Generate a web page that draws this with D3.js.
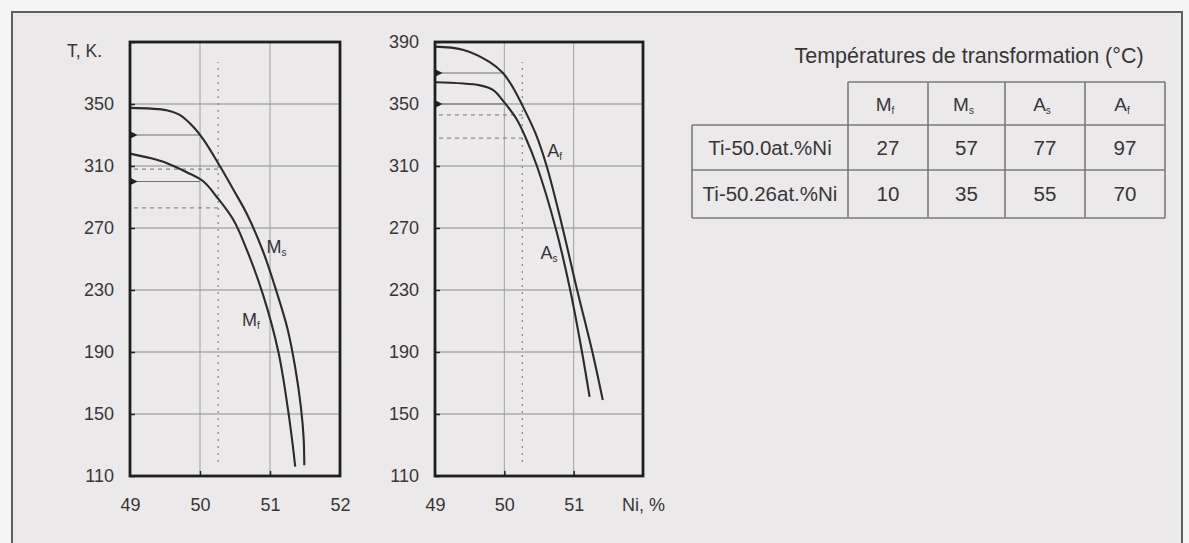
<!DOCTYPE html>
<html>
<head>
<meta charset="utf-8">
<script src="https://cdn.jsdelivr.net/npm/d3@7"></script>
<style>
  html, body { margin: 0; padding: 0; background: #f6f5f5; }
  svg { display: block; }
  text { font-family: "Liberation Sans", Arial, sans-serif; fill: #363636; }
</style>
</head>
<body>
<svg id="chart" width="1189" height="543"></svg>
<script>
// Composition axis (at.% Ni) and temperature axis (K)
const niDomain = [49, 52];
const tDomain = [110, 390];
const tTicks = [110, 150, 190, 230, 270, 310, 350, 390];
const niTicks = [49, 50, 51, 52];
const niTickLabelsRight = ["49", "50", "51", "Ni, %"];
const alloyNi = [50.0, 50.26];

// Martensite transformation curves (Ni at.%, T in K)
const msCurve = [[49.0, 347.5], [49.3, 347], [49.52, 346], [49.71, 343], [49.9, 335.5], [50.05, 327],
  [50.29, 309.5], [50.48, 294.5], [50.67, 279], [50.9, 255], [51.1, 228], [51.25, 205],
  [51.36, 180], [51.44, 155], [51.48, 135], [51.49, 117]];
const mfCurve = [[49.0, 318], [49.3, 315], [49.52, 312], [49.81, 306], [50.05, 300], [50.24, 290],
  [50.48, 275], [50.65, 258], [50.9, 227], [51.12, 190], [51.26, 152], [51.33, 128], [51.36, 116]];

// Austenite transformation curves (Ni at.%, T in K)
const afCurve = [[49.0, 387], [49.4, 385], [49.79, 377], [49.98, 370], [50.12, 361], [50.25, 350],
  [50.45, 331], [50.61, 310], [50.83, 272], [51.05, 230], [51.27, 190], [51.42, 159]];
const asCurve = [[49.0, 364], [49.65, 362], [49.84, 359], [50.0, 351], [50.18, 340], [50.3, 329],
  [50.47, 310], [50.74, 270], [50.95, 230], [51.12, 190], [51.23, 161]];

// Transformation temperatures table (°C)
const tableTitle = "Températures de transformation (°C)";
const tableHeads = [["M", "f"], ["M", "s"], ["A", "s"], ["A", "f"]];
const alloys = ["Ti-50.0at.%Ni", "Ti-50.26at.%Ni"];
const mfC = [27, 10];
const msC = [57, 35];
const asC = [77, 55];
const afC = [97, 70];

const KELVIN = 273;

const svg = d3.select("#chart");

// sheet background and frame
svg.append("rect").attr("x", 12).attr("y", 12).attr("width", 1170).attr("height", 540)
  .attr("fill", "#ebe9ea").attr("stroke", "#5f5f5f").attr("stroke-width", 2);

// arrowhead marker
const defs = svg.append("defs");
defs.append("marker").attr("id", "arrowL")
  .attr("viewBox", "0 0 10 10").attr("refX", 1).attr("refY", 5)
  .attr("markerWidth", 7).attr("markerHeight", 7).attr("orient", "auto-start-reverse")
  .attr("markerUnits", "userSpaceOnUse")
  .append("path").attr("d", "M0,5 L10,0 L10,10 Z").attr("fill", "#222");

function panel(opts) {
  const x = d3.scaleLinear().domain(niDomain).range([opts.left, opts.right]);
  const y = d3.scaleLinear().domain(tDomain).range([476, 42]);
  const g = svg.append("g");

  // horizontal grid
  g.selectAll(".hg").data(tTicks.slice(1, -1)).join("line")
    .attr("x1", x(niDomain[0])).attr("x2", x(niDomain[1]))
    .attr("y1", d => y(d)).attr("y2", d => y(d))
    .attr("stroke", "#8c8c8c").attr("stroke-width", 1);
  // vertical grid
  g.selectAll(".vg").data(niTicks.slice(1, -1)).join("line")
    .attr("x1", d => x(d)).attr("x2", d => x(d))
    .attr("y1", y(tDomain[0])).attr("y2", y(tDomain[1]))
    .attr("stroke", "#a0a0a0").attr("stroke-width", 1);
  // dotted composition line of the second alloy
  g.append("line")
    .attr("x1", x(alloyNi[1])).attr("x2", x(alloyNi[1]))
    .attr("y1", y(tDomain[0]) - 14).attr("y2", y(tDomain[1]) + 20)
    .attr("stroke", "#8a8a8a").attr("stroke-width", 1.3).attr("stroke-dasharray", "2,5");

  // dashed reference levels for Ti-50.26 (ending at the alloy composition)
  g.selectAll(".dash").data(opts.dashTemps).join("line")
    .attr("x1", x(niDomain[0]) + 4).attr("x2", x(alloyNi[1]))
    .attr("y1", d => y(d)).attr("y2", d => y(d))
    .attr("stroke", "#8a8a8a").attr("stroke-width", 1.3).attr("stroke-dasharray", "4,4");

  // arrowed reference levels for Ti-50.0
  g.selectAll(".arr").data(opts.arrowTemps).join("line")
    .attr("x1", x(niDomain[0]) + 7).attr("x2", x(alloyNi[0]))
    .attr("y1", d => y(d)).attr("y2", d => y(d))
    .attr("stroke", "#707070").attr("stroke-width", 1.2)
    .attr("marker-start", "url(#arrowL)");

  // transformation curves
  const line = d3.line().x(d => x(d[0])).y(d => y(d[1])).curve(d3.curveCatmullRom.alpha(0.5));
  g.selectAll(".curve").data(opts.curves).join("path")
    .attr("d", d => line(d)).attr("fill", "none")
    .attr("stroke", "#2b2b2b").attr("stroke-width", 2.1);

  // curve labels
  opts.labels.forEach(l => {
    const t = g.append("text").attr("x", x(l.ni)).attr("y", y(l.t))
      .attr("font-size", 18);
    t.append("tspan").text(l.main);
    t.append("tspan").text(l.sub).attr("font-size", 10).attr("dy", 3);
  });

  // plot frame
  g.append("rect").attr("x", x(niDomain[0])).attr("y", y(tDomain[1]))
    .attr("width", x(niDomain[1]) - x(niDomain[0])).attr("height", y(tDomain[0]) - y(tDomain[1]))
    .attr("fill", "none").attr("stroke", "#1f1f1f").attr("stroke-width", 2.8);

  // y axis: inward ticks + labels
  const yAxis = d3.axisLeft(y).tickValues(tTicks).tickSize(-5).tickPadding(16)
    .tickFormat(d => opts.yLabels.includes(d) ? d : "");
  const ya = g.append("g").attr("transform", `translate(${x(niDomain[0])},0)`).call(yAxis);
  ya.select(".domain").remove();
  ya.selectAll(".tick line").attr("stroke", "#1f1f1f").attr("stroke-width", 1.5);
  ya.selectAll(".tick text").attr("font-size", 18).attr("fill", "#363636")
    .attr("font-family", "Liberation Sans, Arial, sans-serif");

  // x axis: inward ticks + labels
  const xAxis = d3.axisBottom(x).tickValues(niTicks).tickSize(-5).tickPadding(22)
    .tickFormat((d, i) => opts.xLabels[i]);
  const xa = g.append("g").attr("transform", `translate(0,${y(tDomain[0])})`).call(xAxis);
  xa.select(".domain").remove();
  xa.selectAll(".tick line").attr("stroke", "#1f1f1f").attr("stroke-width", 1.5)
    .attr("opacity", (d, i) => (i === 0 || i === niTicks.length - 1) ? 0 : 1);
  xa.selectAll(".tick text").attr("font-size", 18).attr("fill", "#363636")
    .attr("font-family", "Liberation Sans, Arial, sans-serif");
  return { x, y, g };
}

// Martensite panel
const left = panel({
  left: 130, right: 340,
  yLabels: tTicks.slice(0, -1),
  xLabels: niTicks.map(String),
  curves: [msCurve, mfCurve],
  arrowTemps: [msC[0] + KELVIN, mfC[0] + KELVIN],
  dashTemps: [msC[1] + KELVIN, mfC[1] + KELVIN],
  labels: [{ main: "M", sub: "s", ni: 50.95, t: 254 }, { main: "M", sub: "f", ni: 50.6, t: 207 }]
});
left.g.append("text").attr("x", 67).attr("y", 57).attr("font-size", 17.5).text("T, K.");

// Austenite panel
panel({
  left: 435, right: 643,
  yLabels: tTicks,
  xLabels: niTickLabelsRight,
  curves: [afCurve, asCurve],
  arrowTemps: [afC[0] + KELVIN, asC[0] + KELVIN],
  dashTemps: [afC[1] + KELVIN, asC[1] + KELVIN],
  labels: [{ main: "A", sub: "f", ni: 50.62, t: 316 }, { main: "A", sub: "s", ni: 50.52, t: 250 }]
});

// Transformation temperatures table
const colX = [692, 848, 928, 1005, 1085, 1165];
const rowY = [82, 125, 170, 218];
const tbl = svg.append("g");
const lineCol = "#7a7a7a";
tbl.append("text").attr("x", 969).attr("y", 63).attr("text-anchor", "middle")
  .attr("font-size", 21.5).text(tableTitle);

// grid of the table
tbl.append("line").attr("x1", colX[1]).attr("x2", colX[5]).attr("y1", rowY[0]).attr("y2", rowY[0]);
rowY.slice(1).forEach(yv => tbl.append("line").attr("x1", colX[0]).attr("x2", colX[5]).attr("y1", yv).attr("y2", yv));
colX.forEach((xv, i) => tbl.append("line").attr("x1", xv).attr("x2", xv)
  .attr("y1", i === 0 ? rowY[1] : rowY[0]).attr("y2", rowY[3]));
tbl.selectAll("line").attr("stroke", lineCol).attr("stroke-width", 1.6);

// header
tableHeads.forEach((h, i) => {
  const t = tbl.append("text").attr("x", (colX[i + 1] + colX[i + 2]) / 2 - 3).attr("y", (rowY[0] + rowY[1]) / 2 + 7)
    .attr("text-anchor", "middle").attr("font-size", 19);
  t.append("tspan").text(h[0]);
  t.append("tspan").text(h[1]).attr("font-size", 10).attr("dy", 3);
});

// rows
const rows = alloys.map((a, r) => [a, mfC[r], msC[r], asC[r], afC[r]]);
rows.forEach((row, r) => {
  const yc = (rowY[r + 1] + rowY[r + 2]) / 2 + 7;
  row.forEach((v, c) => {
    tbl.append("text").attr("x", (colX[c] + colX[c + 1]) / 2).attr("y", yc)
      .attr("text-anchor", "middle").attr("font-size", 20.5)
      .text(v);
  });
});
</script>
</body>
</html>
